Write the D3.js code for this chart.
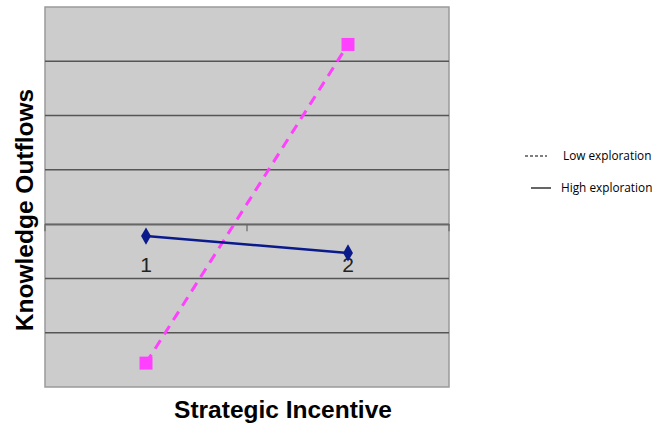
<!DOCTYPE html>
<html>
<head>
<meta charset="utf-8">
<script src="https://cdn.jsdelivr.net/npm/d3@7"></script>
<style>
  html, body { margin: 0; padding: 0; background: #fff; }
  svg { display: block; }
</style>
</head>
<body>
<svg id="chart" width="655" height="426"></svg>
<script>
// Interaction plot: knowledge outflows vs. strategic incentive
const categories = ["1", "2"];
const seriesNames = ["Low exploration", "High exploration"];
const lowExploration = [-2.56, 3.31];
const highExploration = [-0.22, -0.53];
const yTicks = [-3, -2, -1, 0, 1, 2, 3, 4];

const svg = d3.select("#chart");
const plot = { left: 45, top: 7, right: 449, bottom: 387 };

const x = d3.scaleBand().domain(categories).range([plot.left, plot.right]);
const y = d3.scaleLinear().domain([-3, 4]).range([plot.bottom, plot.top]);

// plot background
svg.append("rect")
  .attr("x", plot.left).attr("y", plot.top)
  .attr("width", plot.right - plot.left).attr("height", plot.bottom - plot.top)
  .attr("fill", "#cccccc").attr("stroke", "#9a9a9a").attr("stroke-width", 1.5);

// horizontal gridlines
svg.append("g")
  .selectAll("line")
  .data(yTicks.filter(t => t !== -3 && t !== 4))
  .join("line")
  .attr("x1", plot.left).attr("x2", plot.right)
  .attr("y1", d => y(d)).attr("y2", d => y(d))
  .attr("stroke", "#555").attr("stroke-width", 1.5);

// category axis at zero
const xAxis = d3.axisBottom(x).tickSize(0).tickFormat("");
const ax = svg.append("g").attr("transform", `translate(0,${y(0)})`).call(xAxis);
ax.select(".domain").attr("stroke", "#666").attr("stroke-width", 1.5);
// category boundary ticks
const bounds = [plot.left, x("2"), plot.right];
svg.append("g").selectAll("line").data(bounds).join("line")
  .attr("x1", d => d).attr("x2", d => d)
  .attr("y1", y(0)).attr("y2", y(0) + 7)
  .attr("stroke", "#666").attr("stroke-width", 1.2);

// category labels
svg.append("g").selectAll("text").data(categories).join("text")
  .attr("x", d => x(d) + x.bandwidth() / 2)
  .attr("y", y(0) + 48)
  .attr("text-anchor", "middle")
  .attr("font-family", "Liberation Sans, Arial, sans-serif")
  .attr("font-size", 21)
  .attr("fill", "#222")
  .text(d => d);

const cx = d => x(d) + x.bandwidth() / 2;
const line = d3.line().x(d => cx(d.c)).y(d => y(d.v));

const low = categories.map((c, i) => ({ c, v: lowExploration[i] }));
const high = categories.map((c, i) => ({ c, v: highExploration[i] }));

// low exploration: dashed magenta with squares
svg.append("path").datum(low)
  .attr("d", line).attr("fill", "none")
  .attr("stroke", "#ff40ff").attr("stroke-width", 3)
  .attr("stroke-dasharray", "10,7");
svg.append("g").selectAll("rect").data(low).join("rect")
  .attr("x", d => cx(d.c) - 6.5).attr("y", d => y(d.v) - 6.5)
  .attr("width", 13).attr("height", 13)
  .attr("fill", "#ff40ff");

// high exploration: solid navy with diamonds
svg.append("path").datum(high)
  .attr("d", line).attr("fill", "none")
  .attr("stroke", "#0a1a8a").attr("stroke-width", 2.5);
svg.append("g").selectAll("path.m").data(high).join("path")
  .attr("class", "m")
  .attr("d", d3.symbol(d3.symbolDiamond, 85))
  .attr("transform", d => `translate(${cx(d.c)},${y(d.v)})`)
  .attr("fill", "#0a1a8a");

// axis titles
svg.append("text")
  .attr("x", 283).attr("y", 418)
  .attr("text-anchor", "middle")
  .attr("font-family", "Liberation Sans, Arial, sans-serif")
  .attr("font-weight", "bold").attr("font-size", 24.5)
  .attr("fill", "#000")
  .text("Strategic Incentive");

svg.append("text")
  .attr("transform", "translate(33,210) rotate(-90)")
  .attr("text-anchor", "middle")
  .attr("font-family", "Liberation Sans, Arial, sans-serif")
  .attr("font-weight", "bold").attr("font-size", 24.5)
  .attr("fill", "#000")
  .text("Knowledge Outflows");

// legend
const legend = svg.append("g");
const legendRows = [
  { name: seriesNames[0], y: 156, dash: "3,2", x1: 525, x2: 547, tx: 563 },
  { name: seriesNames[1], y: 188, dash: null, x1: 531, x2: 551, tx: 561 }
];
legendRows.forEach(r => {
  legend.append("line")
    .attr("x1", r.x1).attr("x2", r.x2).attr("y1", r.y).attr("y2", r.y)
    .attr("stroke", "#000").attr("stroke-width", 1.2)
    .attr("stroke-dasharray", r.dash);
  legend.append("text")
    .attr("x", r.tx).attr("y", r.y + 4)
    .attr("font-family", "Open Sans, sans-serif")
    .attr("font-size", 11.8)
    .attr("fill", "#000")
    .text(r.name);
});
</script>
</body>
</html>
